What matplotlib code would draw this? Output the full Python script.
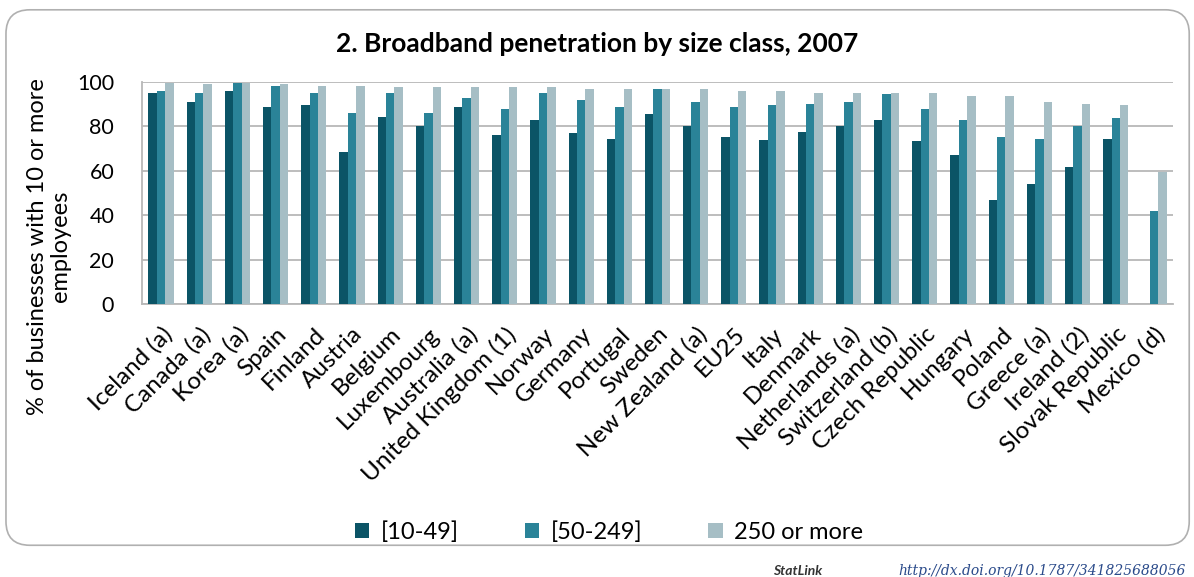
import matplotlib.pyplot as plt
import numpy as np
from matplotlib.patches import FancyBboxPatch

plt.rcParams['font.family'] = ['Lato', 'DejaVu Sans']

countries = ['Iceland (a)', 'Canada (a)', 'Korea (a)', 'Spain', 'Finland', 'Austria',
             'Belgium', 'Luxembourg', 'Australia (a)', 'United Kingdom (1)', 'Norway',
             'Germany', 'Portugal', 'Sweden', 'New Zealand (a)', 'EU25', 'Italy',
             'Denmark', 'Netherlands (a)', 'Switzerland (b)', 'Czech Republic',
             'Hungary', 'Poland', 'Greece (a)', 'Ireland (2)', 'Slovak Republic', 'Mexico (d)']

small = [95, 91, 96, 88.6, 89.5, 68.6, 84.4, 80, 88.6, 76, 83, 77, 74.4, 85.4, 80,
         75.2, 73.7, 77.7, 80, 83, 73.5, 67, 46.8, 54, 61.6, 74.4, np.nan]
medium = [96, 95, 99.7, 98, 95, 86, 95, 86, 92.7, 87.8, 95, 92, 88.6, 96.8, 91,
          88.6, 89.5, 90.3, 91, 94.5, 88, 83, 75.2, 74.4, 80.2, 84, 41.8]
large = [99.6, 99.2, 99.6, 99, 98, 98, 97.7, 97.7, 97.7, 97.7, 97.7, 96.8, 96.8, 96.8,
         96.8, 96, 96, 95, 95, 95, 95, 93.5, 93.5, 91, 90.3, 89.6, 59.6]

labels = ['[10-49]', '[50-249]', '250 or more']
colors = ['#0b5466', '#2a8398', '#a6bec5']

fig = plt.figure(figsize=(11.94, 5.77), dpi=100)
box = FancyBboxPatch((0.005, 0.055), 0.991, 0.928, boxstyle='round,pad=0,rounding_size=0.02',
                     transform=fig.transFigure, facecolor='white', edgecolor='#b0b0b0',
                     linewidth=1.2, mutation_aspect=1194 / 577, zorder=-5)
fig.patches.append(box)

ax = fig.add_axes([142 / 1194, 1 - 304 / 577, (1173 - 142) / 1194, (304 - 82) / 577])
ax.patch.set_alpha(0)
x = np.arange(len(countries))
w = 0.22
for i, (vals, lab, c) in enumerate(zip([small, medium, large], labels, colors)):
    ax.bar(x + (i - 1) * w, vals, w, color=c, label=lab, zorder=3)

ax.set_xlim(-0.5, len(countries) - 0.5)
ax.set_ylim(0, 100)
ax.set_yticks(range(0, 101, 20))
ax.tick_params(axis='y', labelsize=15.5, length=0, pad=20)
ax.tick_params(axis='x', length=0, labelsize=17.5, pad=14)
ax.set_xticks(x)
ax.set_xticklabels(countries, rotation=45, ha='right', rotation_mode='anchor')
ax.yaxis.grid(True, color='#b8b8b8', linewidth=1.3, zorder=0)
for s in ['top', 'right']:
    ax.spines[s].set_visible(False)
for s in ['left', 'bottom']:
    ax.spines[s].set_color('#b8b8b8')
    ax.spines[s].set_linewidth(1.3)
ax.set_ylabel('% of businesses with 10 or more\nemployees', fontsize=17, linespacing=1.1)
ax.yaxis.set_label_coords(-0.069, 0.26)

fig.text(0.5, 0.91, '2. Broadband penetration by size class, 2007', ha='center',
         fontsize=19, fontweight='bold')

fig.legend(loc='center', bbox_to_anchor=(0.51, 0.078), ncol=3, frameon=False,
           fontsize=17, handlelength=0.6, handleheight=0.6, columnspacing=2.8,
           handletextpad=0.5)

fig.text(0.647, 0.003, 'StatLink', fontsize=10, fontweight='bold', style='italic',
         color='#333333')
fig.text(0.752, 0.003, 'http://dx.doi.org/10.1787/341825688056', fontsize=10,
         style='italic', family='DejaVu Serif', color='#2a4a8a')

fig.savefig('out.png', dpi=100)
